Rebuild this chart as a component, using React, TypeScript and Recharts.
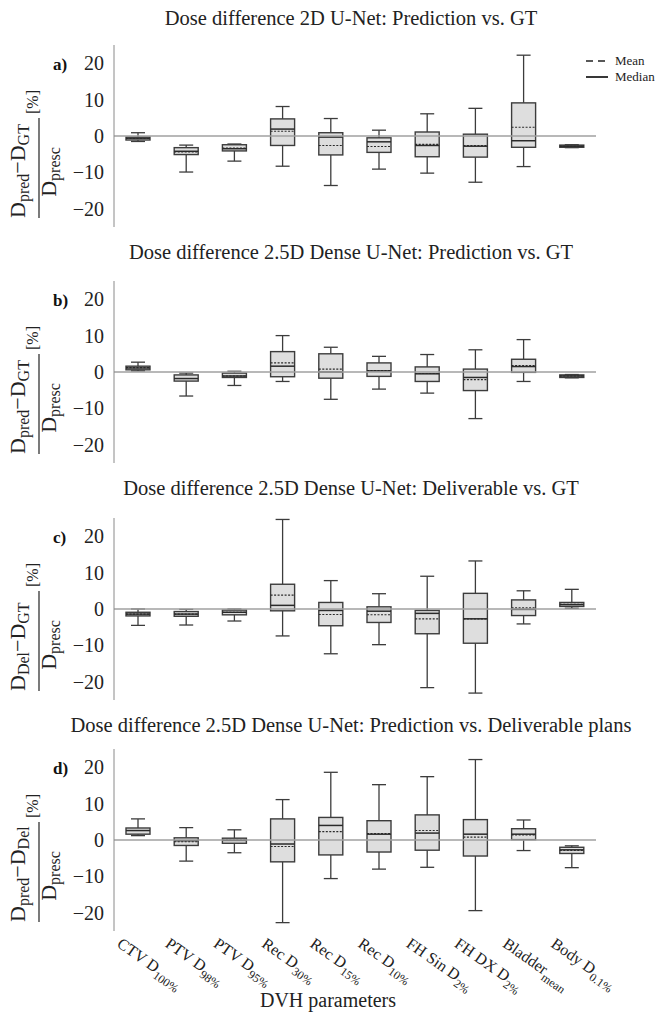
import { BarChart, Bar, XAxis, YAxis, ReferenceLine } from "recharts";

const labelMain = ["CTV D", "PTV D", "PTV D", "Rec D", "Rec D", "Rec D", "FH Sin D", "FH DX D", "Bladder", "Body D"];
const labelSub = ["100%", "98%", "95%", "30%", "15%", "10%", "2%", "2%", "mean", "0.1%"];

const yTicks = [-20, -10, 0, 10, 20];

// each row: [min, q1, median, q3, max, mean]
const panelA = [
  [-1.5, -1.1, -0.6, -0.3, 0.9, -0.7],
  [-9.9, -5.1, -4.2, -3.2, -2.5, -4.4],
  [-6.9, -4.1, -3.5, -2.4, -2.2, -3.3],
  [-8.3, -2.6, 1.9, 4.7, 8.1, 1.3],
  [-13.6, -5.2, -0.3, 0.9, 4.8, -2.6],
  [-9.1, -4.5, -1.6, -0.5, 1.6, -2.9],
  [-10.2, -5.7, -2.6, 1.1, 6.1, -2.3],
  [-12.7, -5.8, -2.8, 0.5, 7.6, -2.6],
  [-8.4, -3.1, -1.3, 9.1, 22.2, 2.4],
  [-3.2, -3.1, -2.8, -2.5, -2.4, -2.8],
];

const panelB = [
  [0.3, 0.6, 1.1, 1.6, 2.7, 1.2],
  [-6.6, -2.5, -1.8, -0.8, -0.3, -1.8],
  [-3.7, -1.5, -1.1, -0.3, 0.2, -1.1],
  [-2.6, -1.3, 1.6, 5.6, 10.0, 2.5],
  [-7.5, -1.7, 0.0, 5.0, 6.8, 0.8],
  [-4.7, -1.2, 0.3, 2.5, 4.3, 0.4],
  [-5.8, -2.6, -0.5, 1.4, 4.8, -0.4],
  [-12.8, -5.1, -1.5, 0.8, 6.1, -2.1],
  [-2.6, -0.1, 1.5, 3.5, 8.9, 1.8],
  [-1.6, -1.5, -1.1, -0.8, -0.7, -1.1],
];

const panelC = [
  [-4.5, -1.9, -1.4, -0.9, 0.0, -1.4],
  [-4.4, -2.0, -1.4, -0.7, -0.1, -1.4],
  [-3.3, -1.6, -0.9, -0.3, 0.0, -0.9],
  [-7.4, -0.5, 1.0, 6.8, 24.6, 3.8],
  [-12.3, -4.6, -0.4, 1.8, 7.8, -1.5],
  [-9.8, -3.7, -0.6, 0.6, 4.2, -1.6],
  [-21.6, -6.8, -1.2, -0.4, 9.0, -2.7],
  [-23.1, -9.4, -2.7, 4.3, 13.2, -2.7],
  [-4.1, -1.8, -0.1, 2.5, 5.0, 0.3],
  [0.2, 0.7, 1.2, 1.8, 5.4, 1.3],
];

const panelD = [
  [1.2, 1.6, 2.6, 3.3, 5.8, 2.6],
  [-5.8, -1.5, -0.2, 0.6, 3.4, -0.5],
  [-3.5, -0.9, -0.1, 0.5, 2.8, 0.0],
  [-22.7, -6.0, -1.1, 5.8, 11.1, -1.8],
  [-10.6, -4.1, 4.0, 6.2, 18.6, 2.3],
  [-8.0, -3.3, 1.6, 5.3, 15.2, 1.8],
  [-7.5, -2.8, 1.9, 6.9, 17.4, 2.6],
  [-19.4, -4.4, 1.6, 5.6, 22.1, 0.8],
  [-2.9, 0.1, 1.6, 3.1, 5.5, 1.4],
  [-7.6, -3.7, -2.7, -2.0, -1.6, -2.9],
];

const titles = [
  "Dose difference 2D U-Net: Prediction vs. GT",
  "Dose difference 2.5D Dense U-Net: Prediction vs. GT",
  "Dose difference 2.5D Dense U-Net: Deliverable vs. GT",
  "Dose difference 2.5D Dense U-Net: Prediction vs. Deliverable plans",
];
const letters = ["a)", "b)", "c)", "d)"];
const numerators = [
  ["pred", "GT"],
  ["pred", "GT"],
  ["Del", "GT"],
  ["pred", "Del"],
];

const FONT = "'Liberation Serif', 'Times New Roman', serif";
const zeroY = [136, 372, 609, 840];
const HALF = 91; // half of plot height in px

const toRows = (stats: number[][]) =>
  stats.map((s, i) => ({
    name: labelMain[i] + labelSub[i],
    min: s[0],
    q1: s[1],
    median: s[2],
    q3: s[3],
    max: s[4],
    mean: s[5],
    range: [s[0], s[4]],
  }));

const BoxShape = (props: any) => {
  const { x, y, width, height } = props;
  const p = props.payload ?? props;
  const { min, max, q1, q3, median, mean } = p;
  const top = Math.min(y, y + height);
  const bot = Math.max(y, y + height);
  const py = (v: number) => top + ((max - v) / (max - min)) * (bot - top);
  const cx = x + width / 2;
  const cap = 7;
  const c = "#3c3c3c";
  return (
    <g>
      <line x1={cx} x2={cx} y1={py(max)} y2={py(q3)} stroke={c} strokeWidth={1.3} />
      <line x1={cx} x2={cx} y1={py(q1)} y2={py(min)} stroke={c} strokeWidth={1.3} />
      <line x1={cx - cap} x2={cx + cap} y1={py(max)} y2={py(max)} stroke={c} strokeWidth={1.3} />
      <line x1={cx - cap} x2={cx + cap} y1={py(min)} y2={py(min)} stroke={c} strokeWidth={1.3} />
      <rect x={x} y={py(q3)} width={width} height={py(q1) - py(q3)} fill="#dedede" stroke={c} strokeWidth={1.4} />
      <line x1={x} x2={x + width} y1={py(median)} y2={py(median)} stroke="#2a2a2a" strokeWidth={1.5} />
      <line x1={x} x2={x + width} y1={py(mean)} y2={py(mean)} stroke="#2a2a2a" strokeWidth={1.1} strokeDasharray="2 1.5" />
    </g>
  );
};

const XTick = (props: any) => {
  const { x, y, index } = props;
  const tx = x - 22;
  const ty = y + 7;
  return (
    <text x={tx} y={ty} transform={`rotate(35 ${tx} ${ty})`} style={{ fontFamily: FONT }} fontSize={16} fill="#222">
      {labelMain[index]}
      <tspan fontSize={12} dy={5}>
        {labelSub[index]}
      </tspan>
    </text>
  );
};

const YTick = (props: any) => {
  const { x, y, payload } = props;
  const v = payload.value as number;
  return (
    <text x={x - 4} y={y} dy={7} textAnchor="end" style={{ fontFamily: FONT }} fontSize={20} fill="#222">
      {v < 0 ? "\u2212" + Math.abs(v) : String(v)}
    </text>
  );
};

function Panel({ stats, idx, showX }: { stats: number[][]; idx: number; showX: boolean }) {
  const plotTop = zeroY[idx] - HALF;
  const xH = showX ? 80 : 0;
  return (
    <div style={{ position: "absolute", left: 0, top: plotTop - 10, fontFamily: FONT }}>
      <BarChart
        width={656}
        height={10 + HALF * 2 + xH}
        data={toRows(stats)}
        margin={{ top: 10, right: 60, left: 0, bottom: 0 }}
        barSize={24}
      >
        <XAxis
          dataKey="name"
          hide={!showX}
          axisLine={false}
          tickLine={false}
          interval={0}
          height={xH}
          tick={<XTick />}
        />
        <YAxis
          width={114}
          domain={[-25, 25]}
          ticks={yTicks}
          allowDataOverflow
          tickLine={false}
          tickMargin={0}
          axisLine={{ stroke: "#8a8a8a", strokeWidth: 1 }}
          tick={<YTick />}
        />
        <ReferenceLine y={0} stroke="#a0a0a0" strokeWidth={1.4} />
        <Bar dataKey="range" shape={<BoxShape />} isAnimationActive={false} />
      </BarChart>
    </div>
  );
}

function FracLabel({ idx }: { idx: number }) {
  const cy = zeroY[idx] + 32;
  const [a, b] = numerators[idx];
  return (
    <g transform={`translate(39 ${cy}) rotate(-90)`} fontFamily={FONT} fill="#222">
      <text x={-50} y={-14} fontSize={22}>
        D<tspan fontSize={16} dy={4}>{a}</tspan>
        <tspan fontSize={22} dy={-4}>{"\u2212D"}</tspan>
        <tspan fontSize={16} dy={4}>{b}</tspan>
      </text>
      <line x1={-50} x2={50} y1={0} y2={0} stroke="#222" strokeWidth={1.2} />
      <text x={-4} y={17} fontSize={22} textAnchor="middle">
        D<tspan fontSize={16} dy={4}>presc</tspan>
      </text>
      <text x={54} y={-1} fontSize={16}>
        [%]
      </text>
    </g>
  );
}

const titleBase = [25, 259, 495, 732];

export default function App() {
  const panels = [panelA, panelB, panelC, panelD];
  return (
    <div style={{ position: "absolute", left: 0, top: 0, width: 656, height: 1021, background: "#fff", overflow: "hidden", fontFamily: FONT }}>
      {panels.map((p, i) => (
        <Panel key={i} stats={p} idx={i} showX={i === 3} />
      ))}
      <svg width={656} height={1021} style={{ position: "absolute", left: 0, top: 0, pointerEvents: "none" }}>
        {titles.map((t, i) => (
          <text key={t} x={351} y={titleBase[i]} textAnchor="middle" fontFamily={FONT} fontSize={20.5} fill="#222">
            {t}
          </text>
        ))}
        {letters.map((l, i) => (
          <text key={l} x={53} y={zeroY[i] - 66} fontFamily={FONT} fontSize={17} fontWeight="bold" fill="#111">
            {l}
          </text>
        ))}
        {[0, 1, 2, 3].map((i) => (
          <FracLabel key={i} idx={i} />
        ))}
        <g fontFamily={FONT} fontSize={13} fill="#222">
          <line x1={586} x2={608} y1={61} y2={61} stroke="#222" strokeWidth={1.6} strokeDasharray="7 5" />
          <text x={615} y={65}>Mean</text>
          <line x1={586} x2={608} y1={77} y2={77} stroke="#222" strokeWidth={1.8} />
          <text x={615} y={81}>Median</text>
        </g>
        <text x={328} y={1007} textAnchor="middle" fontFamily={FONT} fontSize={20} fill="#222">
          DVH parameters
        </text>
      </svg>
    </div>
  );
}
